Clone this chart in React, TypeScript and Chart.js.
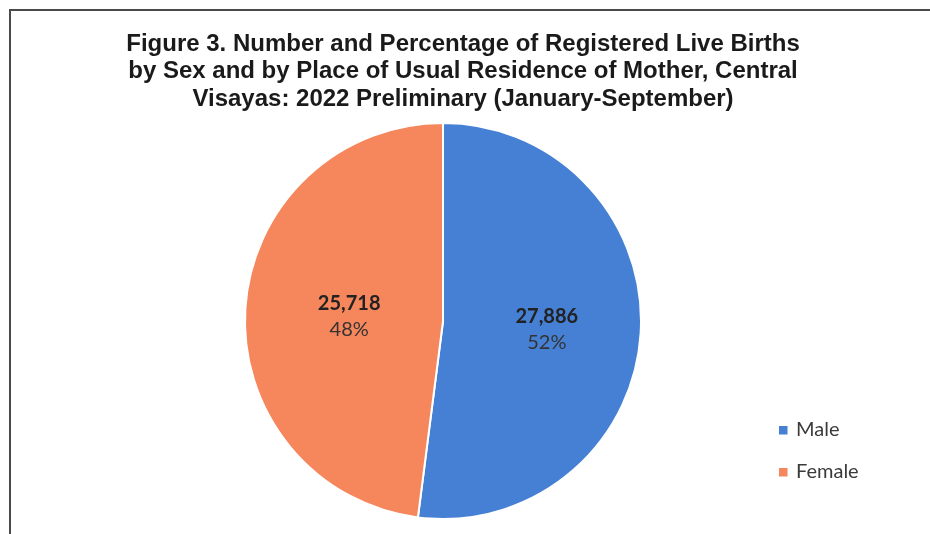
import React, { useEffect, useRef } from "react";
import { Chart, registerables } from "chart.js";

Chart.register(...registerables);

const titleLines = [
  "Figure 3. Number and Percentage of Registered Live Births",
  "by Sex and by Place of Usual Residence of Mother, Central",
  "Visayas: 2022 Preliminary (January-September)",
];
const categories = ["Male", "Female"];
const births = [27886, 25718];
const percentLabels = ["52%", "48%"];
const sliceColors = ["#4580d4", "#f6865c"];

const framePlugin = {
  id: "frame",
  beforeDraw(chart: any) {
    const ctx = chart.ctx;
    ctx.save();
    ctx.fillStyle = "#ffffff";
    ctx.fillRect(0, 0, chart.width, chart.height);
    ctx.strokeStyle = "#4a4a4a";
    ctx.lineWidth = 2;
    ctx.strokeRect(10, 10, chart.width + 20, chart.height + 20);
    ctx.restore();
  },
};

const titlePlugin = {
  id: "customTitle",
  afterDraw(chart: any) {
    const ctx = chart.ctx;
    ctx.save();
    ctx.fillStyle = "#1a1a1a";
    ctx.font = 'bold 24px "Liberation Sans", Arial, sans-serif';
    ctx.textAlign = "center";
    ctx.textBaseline = "alphabetic";
    titleLines.forEach((line, i) => {
      ctx.fillText(line, 463, 50.5 + i * 27.5);
    });
    ctx.restore();
  },
};

const sliceLabelPlugin = {
  id: "sliceLabels",
  afterDatasetsDraw(chart: any) {
    const ctx = chart.ctx;
    const meta = chart.getDatasetMeta(0);
    ctx.save();
    ctx.textAlign = "center";
    ctx.textBaseline = "middle";
    meta.data.forEach((arc: any, i: number) => {
      const p = arc.tooltipPosition();
      const v = births[i].toLocaleString("en-US");
      ctx.fillStyle = "#222222";
      ctx.font = 'bold 20px Lato, "Open Sans", sans-serif';
      ctx.fillText(v, p.x + 5, p.y - 11);
      ctx.fillStyle = "#333333";
      ctx.font = '20px Lato, "Open Sans", sans-serif';
      ctx.fillText(percentLabels[i], p.x + 5, p.y + 15);
    });
    ctx.restore();
  },
};

const legendPlugin = {
  id: "customLegend",
  afterDraw(chart: any) {
    const ctx = chart.ctx;
    ctx.save();
    ctx.textAlign = "left";
    ctx.textBaseline = "middle";
    ctx.font = '20px Lato, "Open Sans", sans-serif';
    categories.forEach((c, i) => {
      const y = 430 + i * 42;
      ctx.fillStyle = sliceColors[i];
      ctx.fillRect(779, y - 4, 8.5, 8.5);
      ctx.fillStyle = "#3a3a3a";
      ctx.fillText(c, 796, y);
    });
    ctx.restore();
  },
};

export default function App() {
  const ref = useRef<HTMLCanvasElement | null>(null);
  useEffect(() => {
    document.body.style.margin = "0";
    if (!ref.current) return;
    const chart = new Chart(ref.current, {
      type: "pie",
      data: {
        labels: categories,
        datasets: [
          {
            data: births,
            backgroundColor: sliceColors,
            borderColor: "#ffffff",
            borderWidth: 2,
          },
        ],
      },
      options: {
        animation: false,
        responsive: false,
        layout: { padding: { top: 122, bottom: 14, left: 244, right: 288 } },
        plugins: {
          legend: { display: false },
          title: { display: false },
          tooltip: { enabled: false },
        },
      },
      plugins: [framePlugin, titlePlugin, sliceLabelPlugin, legendPlugin],
    });
    return () => chart.destroy();
  }, []);
  return (
    <div style={{ width: 930, height: 534 }}>
      <canvas ref={ref} width={930} height={534} style={{ display: "block" }} />
    </div>
  );
}
